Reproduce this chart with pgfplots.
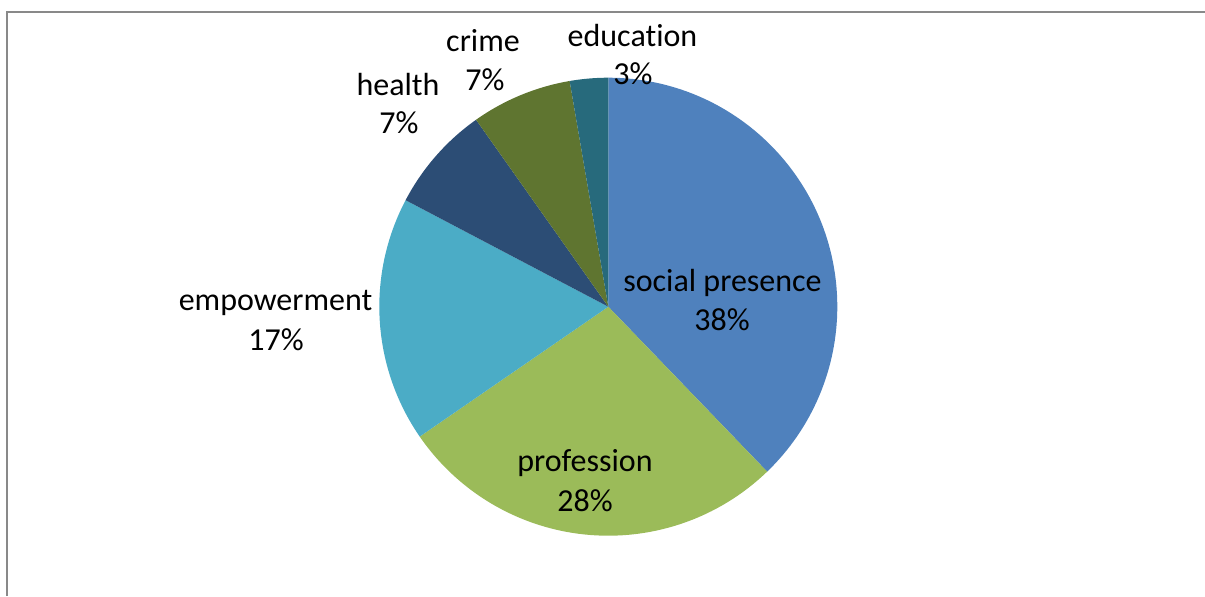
\documentclass[border=0pt]{standalone}
\usepackage{fontspec}
\setmainfont{Carlito}[Ligatures=NoCommon]
\usepackage{pgfplots}
\pgfplotsset{compat=1.18}
\definecolor{cSocial}{HTML}{4F81BD}
\definecolor{cProf}{HTML}{9BBB59}
\definecolor{cEmp}{HTML}{4BACC6}
\definecolor{cHealth}{HTML}{2C4D75}
\definecolor{cCrime}{HTML}{5F7530}
\definecolor{cEdu}{HTML}{276A7C}
\definecolor{cBorder}{HTML}{898989}
% slice: start (cumulative %), share (%), colour
\newcommand{\slice}[3]{%
  \fill[#3] (axis cs:608.3,289.3) -- ++({90-3.6*#1}:114.5pt)
    arc[start angle={90-3.6*#1}, end angle={90-3.6*(#1+#2)}, radius=114.5pt] -- cycle;}
\begin{document}
\begin{tikzpicture}
\begin{axis}[name=pie, x=0.5pt, y=0.5pt, xmin=0, xmax=1205, ymin=0, ymax=596,
  hide axis, clip=false, scale only axis]
% values (percent): social presence 37.8, profession 27.6, empowerment 17.3,
% health 7.5, crime 7.1, education 2.7
\slice{0}{37.8}{cSocial}
\slice{37.8}{27.6}{cProf}
\slice{65.4}{17.3}{cEmp}
\slice{82.7}{7.5}{cHealth}
\slice{90.2}{7.1}{cCrime}
\slice{97.3}{2.7}{cEdu}
\draw[cBorder, line width=1pt] (axis cs:7,0) -- (axis cs:7,584) -- (axis cs:1205,584);
\tikzset{lab/.style={anchor=base, font=\fontsize{16}{19.5}\selectfont, inner sep=0pt}}
\node[lab] at (axis cs:632.5,549.3) {education};
\node[lab] at (axis cs:633,511) {3\%};
\node[lab] at (axis cs:483,544.3) {crime};
\node[lab] at (axis cs:485,506) {7\%};
\node[lab] at (axis cs:398,501) {health};
\node[lab] at (axis cs:399,462.7) {7\%};
\node[lab] at (axis cs:275.5,286) {empowerment};
\node[lab] at (axis cs:276,246) {17\%};
\node[lab] at (axis cs:722.5,304.3) {social presence};
\node[lab] at (axis cs:722,266) {38\%};
\node[lab] at (axis cs:585,124.3) {profession};
\node[lab] at (axis cs:585,84.3) {28\%};
\end{axis}
\pgfresetboundingbox
\useasboundingbox (pie.south west) rectangle (pie.north east);
\end{tikzpicture}
\end{document}
